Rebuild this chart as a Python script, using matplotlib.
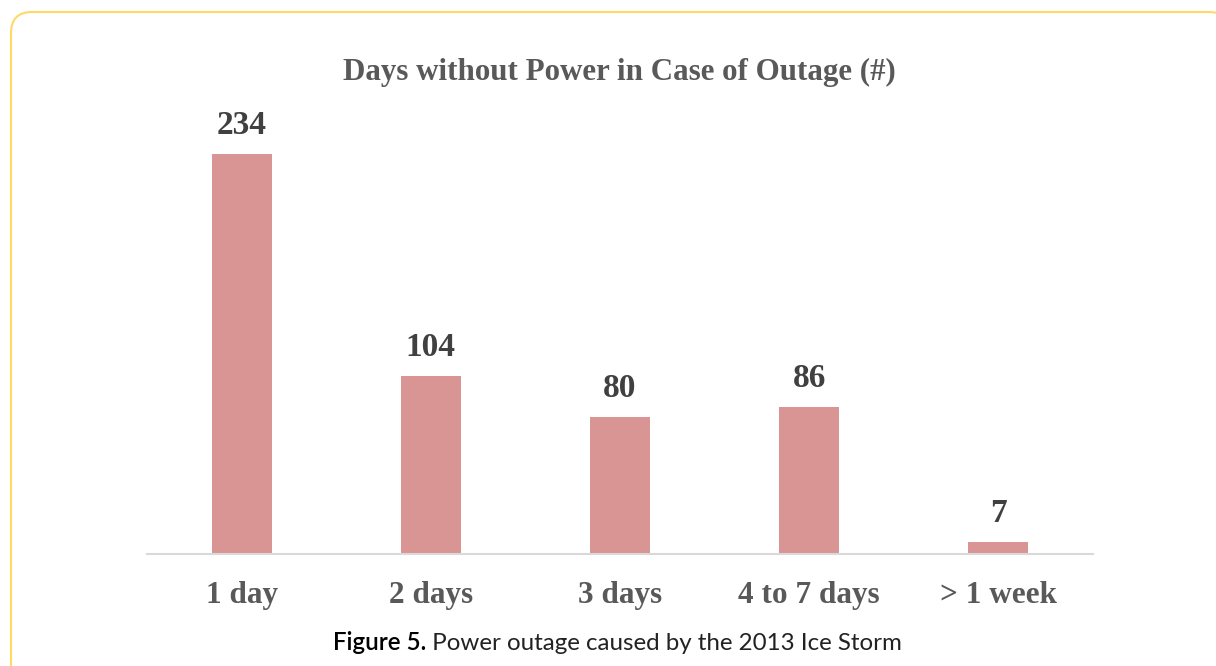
import matplotlib
matplotlib.use("Agg")
import matplotlib.pyplot as plt
from matplotlib.patches import FancyBboxPatch

categories = ["1 day", "2 days", "3 days", "4 to 7 days", "> 1 week"]
values = [234, 104, 80, 86, 7]
title = "Days without Power in Case of Outage (#)"
caption_label = "Figure 5."
caption_text = " Power outage caused by the 2013 Ice Storm"

W, H = 1216, 666
fig = plt.figure(figsize=(W / 100, H / 100), dpi=100)
fig.patch.set_facecolor("white")

# background axes in pixel coordinates for the rounded frame
bg = fig.add_axes([0, 0, 1, 1], zorder=-1)
bg.set_xlim(0, W)
bg.set_ylim(H, 0)
bg.axis("off")
frame = FancyBboxPatch((11, 12), 1230 - 11, 720 - 12,
                       boxstyle="round,pad=0,rounding_size=21",
                       facecolor="none", edgecolor="#FFD966", linewidth=1.5)
bg.add_patch(frame)

# axes: x from 147 to 1093 px, baseline at y=554
px_per_unit = (554 - 154) / 234.0
ax_top_px = 110
ax = fig.add_axes([147 / W, (H - 554) / H, (1093 - 147) / W, (554 - ax_top_px) / H])
ax.set_xlim(-0.5, len(categories) - 0.5)
ax.set_ylim(0, (554 - ax_top_px) / px_per_unit)

x = range(len(categories))
ax.bar(x, values, width=0.317, color="#D99594", zorder=2)

for xi, v in zip(x, values):
    ax.annotate(str(v), (xi, v), xytext=(0, 9.5), textcoords="offset points",
                ha="center", va="bottom", fontsize=24, fontweight="bold",
                family="Liberation Serif", color="#404040")

ax.set_xticks(list(x))
ax.set_xticklabels(categories, fontsize=22.5, fontweight="bold",
                   family="Liberation Serif", color="#595959")
ax.tick_params(axis="x", length=0, pad=19.5)
ax.set_yticks([])
for s in ["left", "right", "top"]:
    ax.spines[s].set_visible(False)
ax.spines["bottom"].set_color("#D9D9D9")
ax.spines["bottom"].set_linewidth(1.5)

fig.text(619 / W, 1 - 72 / H, title, ha="center", va="center", fontsize=22.3,
         fontweight="bold", family="Liberation Serif", color="#595959")

t1 = fig.text(333 / W, 1 - 643 / H, caption_label, ha="left", va="center",
              fontsize=17.4, family="Lato", fontweight="semibold", color="black")
ax.annotate(caption_text, xy=(1, 0), xycoords=t1, xytext=(0, 0),
            textcoords="offset points", ha="left", va="bottom",
            fontsize=17.4, family="Lato", color="#222222",
            annotation_clip=False)

fig.savefig("out.png", dpi=100, facecolor="white")
